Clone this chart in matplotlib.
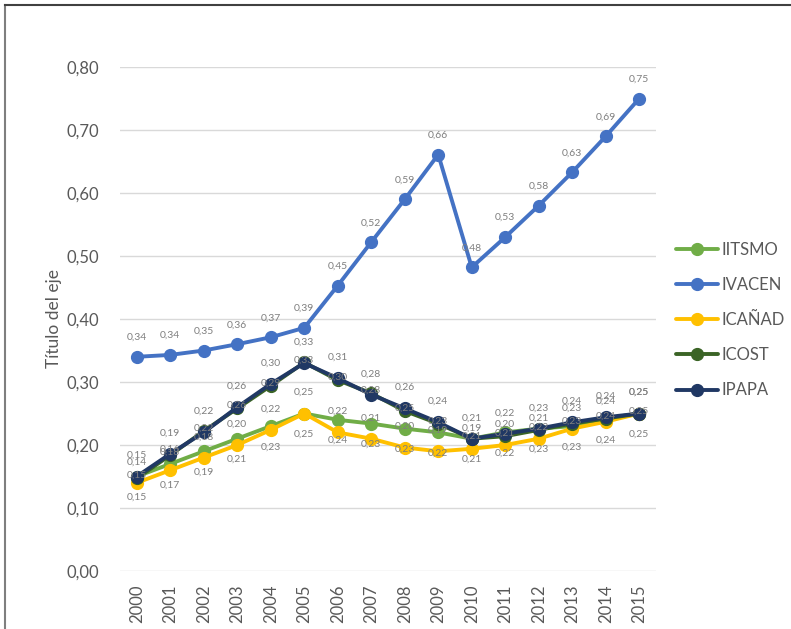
import matplotlib
matplotlib.use('Agg')
import matplotlib.pyplot as plt
from matplotlib.lines import Line2D
from matplotlib.ticker import FuncFormatter

plt.rcParams['font.family'] = ['Lato', 'DejaVu Sans']

years = [str(y) for y in range(2000, 2016)]

iitsmo = [0.15, 0.17, 0.19, 0.21, 0.23, 0.25, 0.24, 0.234, 0.226, 0.22, 0.21, 0.22, 0.226, 0.23, 0.24, 0.25]
ivacen = [0.34, 0.343, 0.35, 0.36, 0.371, 0.386, 0.453, 0.522, 0.59, 0.661, 0.482, 0.53, 0.58, 0.633, 0.69, 0.75]
icanad = [0.14, 0.16, 0.18, 0.20, 0.224, 0.25, 0.22, 0.21, 0.196, 0.19, 0.194, 0.20, 0.21, 0.226, 0.237, 0.25]
icost = [0.147, 0.184, 0.222, 0.258, 0.294, 0.331, 0.303, 0.282, 0.254, 0.234, 0.21, 0.214, 0.224, 0.234, 0.242, 0.25]
ipapa = [0.15, 0.186, 0.22, 0.26, 0.297, 0.33, 0.306, 0.28, 0.258, 0.236, 0.21, 0.218, 0.226, 0.236, 0.244, 0.25]

series = [
    ('IITSMO', iitsmo, '#70AD47', -15),
    ('IVACEN', ivacen, '#4472C4', 14),
    ('ICAÑAD', icanad, '#FFC000', 15),
    ('ICOST', icost, '#3B6426', 2),
    ('IPAPA', ipapa, '#203864', 15),
]

fig = plt.figure(figsize=(7.91, 6.29), dpi=100)
ax = fig.add_axes([120 / 791, (629 - 571) / 629, (656 - 120) / 791, (571 - 67) / 629])

x = list(range(len(years)))
for name, vals, col, off in series:
    ax.plot(x, vals, color=col, lw=2.8, marker='o', markersize=8.5,
            label=name, solid_capstyle='round')

# etiquetas de datos
for name, vals, col, off in series:
    for xi, v in zip(x, vals):
        ax.annotate(f'{v:.2f}'.replace('.', ','), (xi, v), xytext=(0, off),
                    textcoords='offset points', ha='center', va='center',
                    fontsize=7.5, color='#7f7f7f', zorder=10)

ax.set_ylim(0, 0.8)
ax.set_xlim(-0.5, len(years) - 0.5)
ax.set_yticks([i / 10 for i in range(9)])
ax.yaxis.set_major_formatter(FuncFormatter(lambda v, p: f'{v:.2f}'.replace('.', ',')))
ax.set_xticks(x)
ax.set_xticklabels(years, rotation=90)
ax.tick_params(axis='both', length=0, labelsize=12, labelcolor='#595959')
ax.tick_params(axis='x', pad=10)
ax.tick_params(axis='y', pad=15)
ax.grid(axis='y', color='#d9d9d9', lw=1)
ax.set_axisbelow(True)
for s in ax.spines.values():
    s.set_visible(False)

ax.set_ylabel('Título del eje', fontsize=12.5, color='#595959', labelpad=3)

fig.legend(loc='center left', bbox_to_anchor=(668 / 791, (629 - 320) / 629),
           frameon=False, fontsize=12, handlelength=2.5, handletextpad=0.2,
           labelspacing=1.15, borderpad=0, labelcolor='#595959')

fig.add_artist(Line2D([5 / 791, 5 / 791], [0, 1 - 5 / 629], transform=fig.transFigure,
                      color='#7f7f7f', lw=1.5))
fig.add_artist(Line2D([5 / 791, 1], [1 - 5 / 629, 1 - 5 / 629], transform=fig.transFigure,
                      color='#404040', lw=1.5))

fig.savefig('out.png', dpi=100)
